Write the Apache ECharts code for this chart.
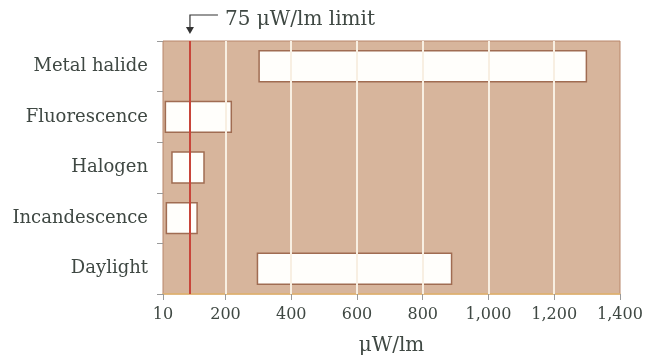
<!DOCTYPE html>
<html>
<head>
<meta charset="utf-8">
<script src="https://cdn.jsdelivr.net/npm/echarts@6/dist/echarts.min.js"></script>
<style>
  html, body { margin: 0; padding: 0; background: #fff; }
  #chart { width: 647px; height: 361px; }
</style>
</head>
<body>
<div id="chart"></div>
<script>
// light sources, top to bottom
var categories = ["Metal halide", "Fluorescence", "Halogen", "Incandescence", "Daylight"];
// UV content range, uW/lm
var rangeStart = [300, 15, 35, 18, 295];
var rangeEnd = [1300, 220, 137, 116, 890];
var tickValues = [10, 200, 400, 600, 800, 1000, 1200, 1400];
var gridValues = [200, 400, 600, 800, 1000, 1200];
var limitLabel = "75 \u03bcW/lm limit";
var limitValue = 92; // where the limit line sits in the picture

var serif = "'DejaVu Serif', 'Liberation Serif', serif";
var textColor = "#3f4843";

var widths = [];
for (var i = 0; i < rangeStart.length; ++i) {
    widths.push(rangeEnd[i] - rangeStart[i]);
}

var chart = echarts.init(document.getElementById("chart"));

var gridLines = [];
for (var i = 0; i < gridValues.length; ++i) {
    gridLines.push({ xAxis: gridValues[i], lineStyle: { color: "#f8efe2", width: 2, type: "solid" } });
}
gridLines.push({ xAxis: limitValue, lineStyle: { color: "#c8453a", width: 2, type: "solid" } });

var option = {
    animation: false,
    grid: {
        left: 163, right: 27, top: 41, bottom: 65,
        show: true,
        backgroundColor: "#d7b59c",
        borderColor: "#b8866a",
        borderWidth: 1
    },
    xAxis: {
        type: "value",
        min: 10,
        max: 1400,
        name: "\u03bcW/lm",
        nameLocation: "middle",
        nameGap: 42,
        nameTextStyle: { fontFamily: serif, fontSize: 20, color: textColor },
        axisLine: { show: true, lineStyle: { color: "#e3b872", width: 1.5 } },
        axisTick: { show: true, length: 6, customValues: tickValues, lineStyle: { color: "#9a9a9a" } },
        axisLabel: {
            customValues: tickValues,
            fontFamily: serif, fontSize: 16, color: textColor, margin: 13,
            formatter: function (v) { return v.toLocaleString("en-US"); }
        },
        splitLine: { show: false }
    },
    yAxis: {
        type: "category",
        data: categories,
        inverse: true,
        axisLine: { show: false },
        axisTick: { show: true, length: 6, lineStyle: { color: "#9a9a9a" } },
        axisLabel: { fontFamily: serif, fontSize: 18, color: textColor, margin: 15 }
    },
    series: [
        {
            type: "line",
            data: [],
            z: 1,
            markLine: {
                silent: true,
                symbol: "none",
                label: { show: false },
                data: gridLines
            }
        },
        {
            type: "bar",
            stack: "range",
            data: rangeStart,
            barWidth: "64%",
            itemStyle: { color: "transparent" },
            z: 3
        },
        {
            type: "bar",
            stack: "range",
            data: widths,
            barWidth: "64%",
            itemStyle: { color: "#fffefb", borderColor: "#a06c52", borderWidth: 1.5 },
            z: 3
        }
    ]
};
chart.setOption(option);

// leader with arrow for the limit label
var lx = chart.convertToPixel({ xAxisIndex: 0 }, limitValue);
chart.setOption({
    graphic: [
        {
            type: "polyline",
            shape: { points: [[lx, 29], [lx, 15], [lx + 28, 15]] },
            style: { stroke: "#333", lineWidth: 1.2, fill: null }
        },
        {
            type: "polygon",
            shape: { points: [[lx - 4, 27], [lx + 4, 27], [lx, 34]] },
            style: { fill: "#333" }
        },
        {
            type: "text",
            x: lx + 35,
            y: 20,
            style: {
                text: limitLabel,
                font: "20px " + serif,
                fill: textColor,
                verticalAlign: "middle"
            }
        }
    ]
});
</script>
</body>
</html>
